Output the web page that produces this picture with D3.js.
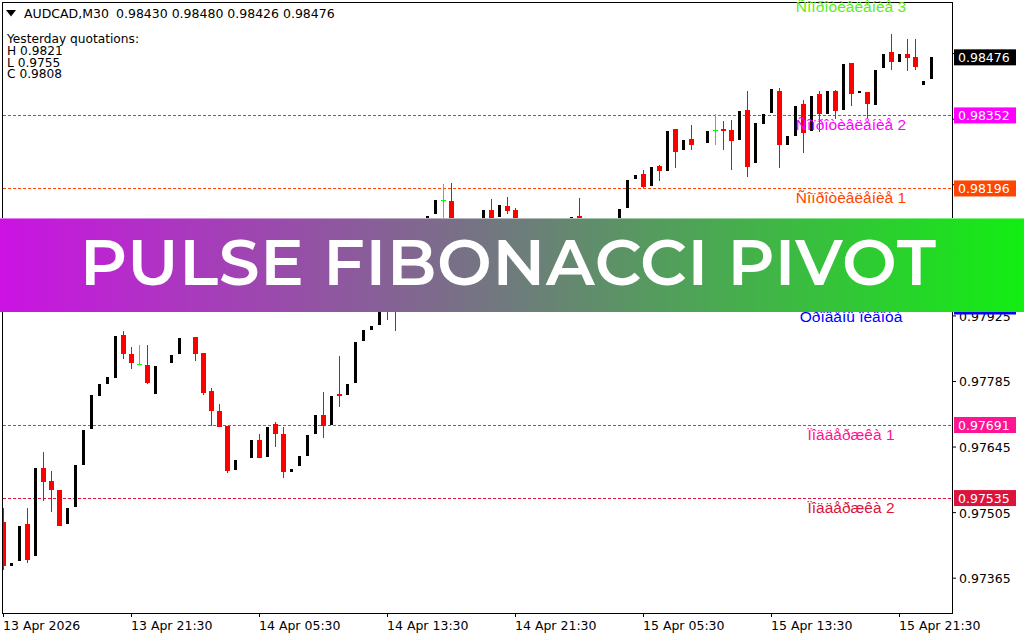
<!DOCTYPE html>
<html><head><meta charset="utf-8">
<script src="https://cdn.jsdelivr.net/npm/d3@7"></script>
<style>body{margin:0;background:#fff;} svg{display:block}</style>
</head><body>
<svg id="c" width="1024" height="640"></svg>
<script>
// ---------- DATA ----------
const symbol = "AUDCAD,M30";
const timeTickIndex = [0, 16, 32, 48, 64, 80, 96, 112];
const timeTickLabels = ["13 Apr 2026", "13 Apr 21:30", "14 Apr 05:30", "14 Apr 13:30", "14 Apr 21:30", "15 Apr 05:30", "15 Apr 13:30", "15 Apr 21:30"];
const priceTicks = [0.97365, 0.97505, 0.97645, 0.97785, 0.97925, 0.98065, 0.98205, 0.98345, 0.98485];

const opens = [0.97484,0.97391,0.97400,0.97479,0.97411,0.97599,0.97571,0.97552,0.97479,0.97516,
0.97605,0.97682,0.97753,0.97778,0.97791,0.97883,0.97842,0.97821,0.97819,0.97757,
0.97817,0.97823,0.97842,0.97876,0.97879,0.97844,0.97763,0.97721,0.97689,0.97595,
0.97616,0.97620,0.97659,0.97622,0.97693,0.97671,0.97591,0.97603,0.97624,0.97671,
0.97712,0.97691,0.97757,0.97755,0.97780,0.97870,0.97893,0.97904,0.97962,0.97958,
0.97940,0.97996,0.98051,0.98094,0.98141,0.98171,0.98169,0.98086,0.98111,0.98075,
0.98133,0.98150,0.98135,0.98158,0.98150,0.98086,0.98047,0.98075,0.98039,0.98064,
0.98096,0.98096,0.98137,0.98086,0.98103,0.98069,0.98103,0.98111,0.98154,0.98216,
0.98227,0.98201,0.98244,0.98233,0.98323,0.98278,0.98301,0.98299,0.98293,0.98320,
0.98323,0.98320,0.98299,0.98363,0.98250,0.98333,0.98357,0.98404,0.98288,0.98308,
0.98376,0.98318,0.98397,0.98355,0.98404,0.98363,0.98464,0.98399,0.98402,0.98374,
0.98453,0.98487,0.98466,0.98483,0.98476,0.98417,0.98430];
const highs = [0.97514,0.97397,0.97475,0.97514,0.97599,0.97633,0.97592,0.97552,0.97514,0.97605,
0.97680,0.97755,0.97778,0.97793,0.97881,0.97891,0.97857,0.97861,0.97861,0.97817,
0.97818,0.97840,0.97876,0.97877,0.97879,0.97844,0.97770,0.97736,0.97689,0.97616,
0.97617,0.97659,0.97671,0.97686,0.97697,0.97686,0.97598,0.97624,0.97669,0.97712,
0.97761,0.97753,0.97838,0.97778,0.97868,0.97893,0.97902,0.97958,0.97979,0.97990,
0.98000,0.98054,0.98096,0.98137,0.98171,0.98205,0.98207,0.98111,0.98118,0.98124,
0.98150,0.98173,0.98160,0.98177,0.98154,0.98090,0.98075,0.98086,0.98069,0.98096,
0.98107,0.98135,0.98175,0.98103,0.98111,0.98107,0.98124,0.98152,0.98214,0.98224,
0.98235,0.98241,0.98246,0.98318,0.98323,0.98299,0.98331,0.98300,0.98318,0.98355,
0.98340,0.98342,0.98361,0.98404,0.98335,0.98355,0.98408,0.98410,0.98308,0.98372,
0.98385,0.98393,0.98404,0.98404,0.98406,0.98461,0.98464,0.98404,0.98402,0.98449,
0.98483,0.98525,0.98483,0.98515,0.98515,0.98425,0.98480];
const lows = [0.97381,0.97391,0.97400,0.97396,0.97411,0.97528,0.97505,0.97475,0.97479,0.97516,
0.97605,0.97682,0.97753,0.97778,0.97791,0.97832,0.97810,0.97819,0.97778,0.97757,
0.97817,0.97823,0.97842,0.97876,0.97827,0.97755,0.97689,0.97686,0.97588,0.97595,
0.97616,0.97620,0.97620,0.97622,0.97644,0.97578,0.97591,0.97603,0.97624,0.97671,
0.97663,0.97691,0.97729,0.97755,0.97780,0.97870,0.97893,0.97904,0.97915,0.97891,
0.97940,0.97996,0.98051,0.98094,0.98141,0.98107,0.98075,0.98086,0.98064,0.98075,
0.98133,0.98096,0.98135,0.98141,0.98064,0.98032,0.98047,0.98022,0.98039,0.98064,
0.98054,0.98096,0.98064,0.98086,0.98054,0.98069,0.98103,0.98111,0.98154,0.98216,
0.98197,0.98201,0.98212,0.98233,0.98239,0.98278,0.98278,0.98299,0.98293,0.98288,
0.98278,0.98235,0.98299,0.98220,0.98250,0.98333,0.98357,0.98239,0.98288,0.98308,
0.98271,0.98318,0.98316,0.98355,0.98344,0.98363,0.98372,0.98399,0.98346,0.98374,
0.98453,0.98449,0.98466,0.98446,0.98449,0.98417,0.98426];
const closes = [0.97390,0.97397,0.97475,0.97402,0.97599,0.97569,0.97552,0.97475,0.97514,0.97605,
0.97680,0.97755,0.97778,0.97793,0.97881,0.97842,0.97823,0.97821,0.97780,0.97817,
0.97818,0.97840,0.97876,0.97877,0.97842,0.97759,0.97721,0.97686,0.97592,0.97616,
0.97617,0.97659,0.97620,0.97686,0.97671,0.97590,0.97598,0.97624,0.97669,0.97712,
0.97689,0.97753,0.97753,0.97778,0.97868,0.97893,0.97902,0.97958,0.97947,0.97940,
0.98000,0.98054,0.98096,0.98137,0.98171,0.98171,0.98086,0.98111,0.98075,0.98124,
0.98150,0.98111,0.98160,0.98148,0.98086,0.98047,0.98075,0.98039,0.98069,0.98096,
0.98075,0.98135,0.98086,0.98103,0.98069,0.98107,0.98124,0.98152,0.98214,0.98224,
0.98199,0.98241,0.98233,0.98318,0.98274,0.98299,0.98288,0.98300,0.98318,0.98320,
0.98318,0.98297,0.98361,0.98241,0.98335,0.98355,0.98408,0.98288,0.98308,0.98372,
0.98314,0.98393,0.98355,0.98404,0.98361,0.98461,0.98397,0.98404,0.98376,0.98449,
0.98483,0.98466,0.98483,0.98474,0.98455,0.98425,0.98476];

const yesterdayKeys = ["H", "L", "C"];
const yesterdayValues = [0.9821, 0.9755, 0.9808];

const levelNames = ["Ñîïðîòèâëåíèå 3", "Ñîïðîòèâëåíèå 2", "Ñîïðîòèâëåíèå 1", "Óðîâåíü ïèâîòà", "Ïîääåðæêà 1", "Ïîääåðæêà 2", "Ïîääåðæêà 3"];
const levelValues = [0.98605, 0.98352, 0.98196, 0.97944, 0.97691, 0.97535, 0.97283];
const levelColors = ["#5cec1c", "#ff00ff", "#ff4500", "#0000ff", "#ff1493", "#dc143c", "#ff0000"];

const bannerTitle = "PULSE FIBONACCI PIVOT";

// ---------- DRAW ----------
const svg = d3.select("#c");
const plot = {left: 2.5, right: 952.5, top: 2.5, bottom: 613.5};
const x = d3.scaleLinear().domain([0, opens.length - 1]).range([3, 931]);
const y = d3.scaleLinear().domain([0.972896, 0.985920]).range([613, 3]);
const fmt5 = d3.format(".5f"), fmt4 = d3.format(".4f");
const axisFont = "'DejaVu Sans', Verdana, sans-serif";

svg.append("rect").attr("width", 1024).attr("height", 640).attr("fill", "#fff");

svg.append("defs").append("clipPath").attr("id", "plotclip")
  .append("rect").attr("x", 3).attr("y", 3).attr("width", 949).attr("height", 610);

// levels and the price boxes they produce
const levels = levelValues.map((v, k) => ({v, name: levelNames[k], color: levelColors[k]}));
const boxes = levels.filter(d => y(d.v) > 3 && y(d.v) < 613)
  .map(d => ({v: d.v, color: d.color}))
  .concat([{v: closes[closes.length - 1], color: "#000000"}]);
// a tick label sitting right under a price box is hidden by it (as on the terminal)
const coveredTick = t => boxes.some(b => Math.abs(y(b.v) - y(t)) < 6);

// y axis
const yAxis = svg.append("g").attr("transform", "translate(953,0)")
  .call(d3.axisRight(y).tickValues(priceTicks).tickSize(3).tickPadding(3)
    .tickFormat(t => coveredTick(t) ? "" : fmt5(t)));
yAxis.select(".domain").remove();
yAxis.selectAll("line").attr("stroke", "#000");
yAxis.selectAll("text").attr("font-family", axisFont).attr("font-size", 12.5).attr("fill", "#000").attr("dy", "0.4em");

// x axis
const xAxis = svg.append("g").attr("transform", "translate(0,613)")
  .call(d3.axisBottom(x).tickValues(timeTickIndex).tickSize(4).tickPadding(4)
    .tickFormat((d, k) => timeTickLabels[k]));
xAxis.select(".domain").remove();
xAxis.selectAll("line").attr("stroke", "#000");
xAxis.selectAll("text").attr("font-family", axisFont).attr("font-size", 12.5).attr("fill", "#000")
  .attr("text-anchor", "start").attr("x", -0.5);

// frame
svg.append("rect").attr("x", plot.left).attr("y", plot.top)
  .attr("width", plot.right - plot.left).attr("height", plot.bottom - plot.top)
  .attr("fill", "none").attr("stroke", "#000").attr("stroke-width", 1);

// level lines
const lg = svg.append("g").attr("clip-path", "url(#plotclip)");
lg.selectAll("line").data(levels).join("line")
  .attr("x1", 3).attr("x2", 952)
  .attr("y1", d => Math.round(y(d.v)) + 0.5).attr("y2", d => Math.round(y(d.v)) + 0.5)
  .attr("stroke", d => d.color).attr("stroke-width", 1).attr("stroke-dasharray", "3,2");

// candles
const bars = opens.map((o, i) => ({i, o, h: highs[i], l: lows[i], c: closes[i]}));
const cg = svg.append("g").attr("shape-rendering", "crispEdges").attr("clip-path", "url(#plotclip)");
const bear = bars.filter(d => d.c < d.o);
const bull = bars.filter(d => d.c > d.o && (y(d.o) - y(d.c)) >= 1);
const doji = bars.filter(d => d.c === d.o);

cg.selectAll(".bw").data(bear).join("rect").attr("class", "bw")
  .attr("x", d => Math.round(x(d.i))).attr("width", 1)
  .attr("y", d => y(d.h)).attr("height", d => Math.max(1, y(d.l) - y(d.h))).attr("fill", "#ff0000");
cg.selectAll(".bb").data(bear).join("rect").attr("class", "bb")
  .attr("x", d => Math.round(x(d.i)) - 2).attr("width", 5)
  .attr("y", d => y(d.o)).attr("height", d => Math.max(1, y(d.c) - y(d.o))).attr("fill", "#ff0000");
cg.selectAll(".ub").data(bull).join("rect").attr("class", "ub")
  .attr("x", d => Math.round(x(d.i)) - 1).attr("width", 3)
  .attr("y", d => y(d.c)).attr("height", d => y(d.o) - y(d.c)).attr("fill", "#000");
cg.selectAll(".dw").data(doji).join("rect").attr("class", "dw")
  .attr("x", d => Math.round(x(d.i))).attr("width", 1)
  .attr("y", d => y(d.h)).attr("height", d => Math.max(1, y(d.l) - y(d.h))).attr("fill", "#00ff00");
cg.selectAll(".db").data(doji).join("rect").attr("class", "db")
  .attr("x", d => Math.round(x(d.i)) - 2).attr("width", 5)
  .attr("y", d => Math.round(y(d.o))).attr("height", 1).attr("fill", "#00ff00");

// level names
const visibleNames = levels.filter(d => y(d.v) > -12 && y(d.v) < 613);
svg.selectAll(".lname").data(visibleNames).join("text").attr("class", "lname")
  .attr("x", 851).attr("y", d => y(d.v) + 15)
  .attr("text-anchor", "middle")
  .attr("font-family", "'Liberation Sans', Arial, sans-serif").attr("font-size", 15.5)
  .attr("fill", d => d.color).text(d => d.name);

// price boxes
const bg = svg.append("g");
bg.selectAll("rect").data(boxes).join("rect")
  .attr("x", 954).attr("width", 62).attr("y", d => y(d.v) - 8).attr("height", 16)
  .attr("fill", d => d.color);
bg.selectAll("text").data(boxes).join("text")
  .attr("x", 958).attr("y", d => y(d.v) + 5)
  .attr("font-family", axisFont).attr("font-size", 12.5).attr("fill", "#fff")
  .text(d => fmt5(d.v));

// header
svg.append("path").attr("d", "M6,10 L16,10 L11,16.5 Z").attr("fill", "#000");
const last = bars[bars.length - 1];
svg.append("text").attr("x", 24).attr("y", 18).attr("font-family", axisFont).attr("font-size", 12.5)
  .text(symbol);
svg.append("text").attr("x", 116).attr("y", 18).attr("font-family", axisFont).attr("font-size", 12.5)
  .text([last.o, last.h, last.l, last.c].map(fmt5).join(" "));
svg.append("text").attr("x", 7).attr("y", 43).attr("font-family", axisFont).attr("font-size", 12.2)
  .text("Yesterday quotations:");
svg.selectAll(".yq").data(yesterdayKeys).join("text").attr("class", "yq")
  .attr("x", 7).attr("y", (d, k) => 55 + k * 11.5)
  .attr("font-family", axisFont).attr("font-size", 12.2)
  .text((d, k) => d + " " + fmt4(yesterdayValues[k]));

// banner
const grad = svg.select("defs").append("linearGradient").attr("id", "bgrad")
  .attr("x1", "0%").attr("x2", "100%").attr("y1", "0%").attr("y2", "0%");
grad.append("stop").attr("offset", "0%").attr("stop-color", "#cc12e4");
grad.append("stop").attr("offset", "50%").attr("stop-color", "#6f7b7c");
grad.append("stop").attr("offset", "100%").attr("stop-color", "#12ee12");
svg.append("rect").attr("x", 0).attr("y", 218).attr("width", 1024).attr("height", 94)
  .attr("fill", "url(#bgrad)");
svg.append("line").attr("x1", 0).attr("x2", 1024).attr("y1", 218.5).attr("y2", 218.5)
  .attr("stroke", "#ffffff").attr("stroke-opacity", 0.45);
svg.append("text").attr("x", 80).attr("y", 285)
  .attr("font-family", "Montserrat, Inter, 'Open Sans', sans-serif").attr("font-weight", 600)
  .attr("font-size", 65).attr("fill", "#fff")
  .attr("textLength", 856).attr("lengthAdjust", "spacing")
  .text(bannerTitle);
</script>
</body></html>
